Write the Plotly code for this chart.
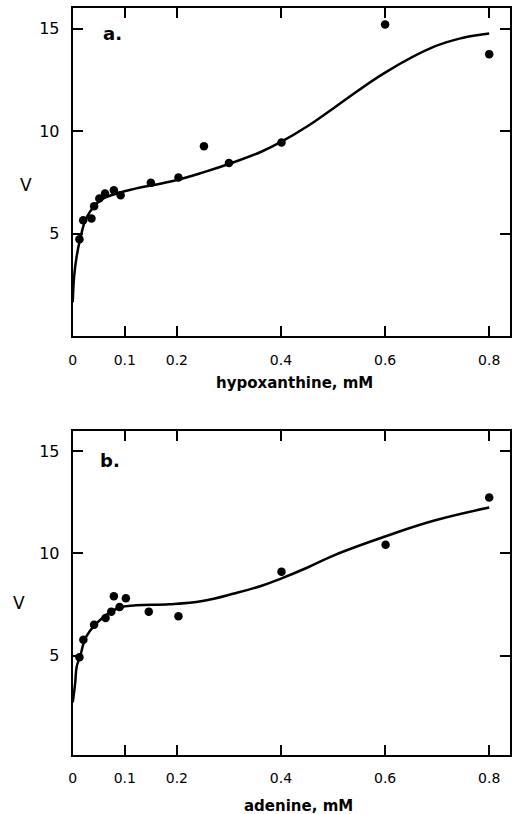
import plotly.graph_objects as go

# ---- data ----
hypo_x = [0.0128, 0.020, 0.036, 0.041, 0.051, 0.062, 0.079, 0.092, 0.150, 0.203, 0.252, 0.300, 0.401, 0.600, 0.800]
hypo_v = [4.72, 5.65, 5.73, 6.33, 6.71, 6.95, 7.11, 6.87, 7.47, 7.73, 9.26, 8.44, 9.44, 15.2, 13.75]

hypo_fit_x = [0, 0.0027, 0.0076, 0.014, 0.027, 0.052, 0.084, 0.122, 0.186, 0.249, 0.312, 0.363, 0.401, 0.450, 0.503, 0.600, 0.693, 0.750, 0.800]
hypo_fit_v = [1.65, 2.92, 3.9, 4.7, 5.8, 6.6, 6.95, 7.2, 7.52, 7.97, 8.5, 9.0, 9.48, 10.22, 11.15, 12.85, 14.1, 14.55, 14.76]

aden_x = [0.0128, 0.0204, 0.041, 0.063, 0.074, 0.079, 0.090, 0.102, 0.146, 0.203, 0.401, 0.601, 0.800]
aden_v = [4.92, 5.77, 6.51, 6.84, 7.15, 7.90, 7.38, 7.80, 7.15, 6.92, 9.11, 10.43, 12.74]

aden_fit_x = [0, 0.0046, 0.0076, 0.014, 0.027, 0.058, 0.090, 0.122, 0.186, 0.249, 0.312, 0.363, 0.401, 0.450, 0.503, 0.600, 0.693, 0.800]
aden_fit_v = [2.7, 3.64, 4.46, 4.95, 5.97, 6.86, 7.35, 7.46, 7.51, 7.67, 8.05, 8.42, 8.78, 9.3, 9.92, 10.83, 11.6, 12.25]

x_ticks = [0, 0.1, 0.2, 0.4, 0.6, 0.8]
x_tick_text = ["0", "0.1", "0.2", "0.4", "0.6", "0.8"]
y_ticks = [5, 10, 15]
y_tick_text = ["5", "10", "15"]

FONT = "DejaVu Sans"
W, H = 514, 814

fig = go.Figure()

# top panel
fig.add_trace(go.Scatter(x=hypo_fit_x, y=hypo_fit_v, mode="lines", line=dict(color="black", width=2.5, shape="spline", smoothing=1.2),
                         xaxis="x", yaxis="y", showlegend=False, hoverinfo="skip"))
fig.add_trace(go.Scatter(x=hypo_x, y=hypo_v, mode="markers", marker=dict(color="black", size=8.5),
                         xaxis="x", yaxis="y", showlegend=False))
# bottom panel
fig.add_trace(go.Scatter(x=aden_fit_x, y=aden_fit_v, mode="lines", line=dict(color="black", width=2.5, shape="spline", smoothing=1.2),
                         xaxis="x2", yaxis="y2", showlegend=False, hoverinfo="skip"))
fig.add_trace(go.Scatter(x=aden_x, y=aden_v, mode="markers", marker=dict(color="black", size=8.5),
                         xaxis="x2", yaxis="y2", showlegend=False))

xdom = [69.3 / W, 510 / W]
top_dom = [1 - 336 / H, 1 - 8 / H]
bot_dom = [1 - 754.5 / H, 1 - 431 / H]

axcommon = dict(showline=True, linecolor="black", linewidth=2, mirror="ticks", ticks="inside",
                ticklen=10, tickwidth=1.5, tickcolor="black", showgrid=False, zeroline=False,
                tickfont=dict(family=FONT, size=14, color="black"))

fig.update_layout(
    width=W, height=H, margin=dict(l=0, r=0, t=0, b=0),
    plot_bgcolor="white", paper_bgcolor="white",
    xaxis=dict(domain=xdom, anchor="y", range=[0, 0.84], tickvals=x_ticks, ticktext=x_tick_text,
               ticklabelstandoff=10, **axcommon),
    yaxis=dict(domain=top_dom, anchor="x", range=[0, 16], tickvals=y_ticks, ticktext=y_tick_text,
               ticklabelstandoff=8, **{**axcommon, "tickfont": dict(family=FONT, size=16, color="black")}),
    xaxis2=dict(domain=xdom, anchor="y2", range=[0, 0.84], tickvals=x_ticks, ticktext=x_tick_text,
                ticklabelstandoff=10, **axcommon),
    yaxis2=dict(domain=bot_dom, anchor="x2", range=[0.15, 16], tickvals=y_ticks, ticktext=y_tick_text,
                ticklabelstandoff=8, **{**axcommon, "tickfont": dict(family=FONT, size=16, color="black")}),
)

def ann(text, x, y, size, bold=False):
    fig.add_annotation(text=f"<b>{text}</b>" if bold else text, x=x / W, y=1 - y / H, xref="paper", yref="paper",
                       showarrow=False, xanchor="center", yanchor="middle",
                       font=dict(family=FONT, size=size, color="black"))

ann("hypoxanthine, mM", 293, 383, 15, bold=True)
ann("adenine, mM", 297, 806, 15, bold=True)
ann("V", 22, 185, 17)
ann("V", 15, 603, 17)
ann("a.", 109, 34, 18, bold=True)
ann("b.", 107, 460, 18, bold=True)

fig.write_html("out.html")
